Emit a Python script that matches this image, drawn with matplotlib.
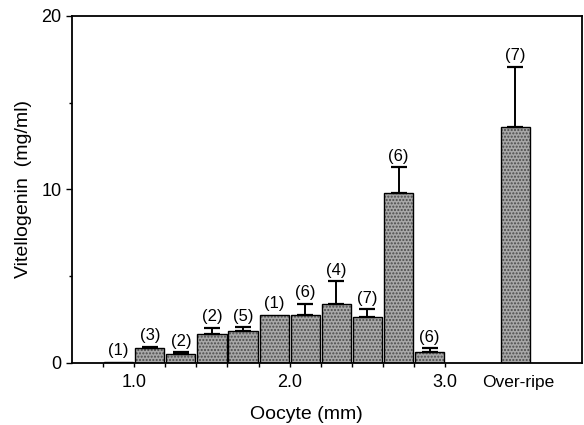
import matplotlib
matplotlib.use('Agg')
import matplotlib.pyplot as plt
from matplotlib.ticker import FixedLocator
import matplotlib.transforms as mtransforms

plt.rcParams['font.family'] = ['Liberation Sans', 'DejaVu Sans']

# oocyte size bins (mm, bin centre) and the over-ripe group
bin_centers = [0.9, 1.1, 1.3, 1.5, 1.7, 1.9, 2.1, 2.3, 2.5, 2.7, 2.9, 3.45]
vtg_mean = [0.08, 0.85, 0.52, 1.67, 1.84, 2.77, 2.77, 3.40, 2.67, 9.82, 0.63, 13.62]
vtg_err = [0.0, 0.09, 0.10, 0.37, 0.23, 0.0, 0.65, 1.31, 0.44, 1.46, 0.22, 3.46]
n_fish = [1, 3, 2, 2, 5, 1, 6, 4, 7, 6, 6, 7]
major_ticks = [1.0, 2.0, 3.0]
major_labels = ['1.0', '2.0', '3.0']
minor_ticks = [0.8, 1.2, 1.4, 1.6, 1.8, 2.2, 2.4, 2.6, 2.8]

fig = plt.figure(figsize=(5.84, 4.25), dpi=100)
ax = fig.add_axes([0.1233, 0.1459, 0.8733, 0.8165])

# stippled grey look: base fill, dotted hatch, then black outline
ax.bar(bin_centers, vtg_mean, width=0.188, color='#a8a8a8', edgecolor='#4a4a4a',
       hatch='.....', linewidth=0, zorder=2)
ax.bar(bin_centers, vtg_mean, width=0.188, color='none', edgecolor='black',
       linewidth=1.0, zorder=3)

for x, m, e, n in zip(bin_centers, vtg_mean, vtg_err, n_fish):
    if e > 0:
        ax.errorbar(x, m, yerr=[[0], [e]], fmt='none', ecolor='black',
                    elinewidth=1.4, capsize=6, capthick=1.6, zorder=4)
    ax.annotate(f'({n})', (x, m + e), xytext=(0, 2.5), textcoords='offset points',
                ha='center', va='bottom', fontsize=12)

ax.set_xlim(0.6, 3.88)
ax.set_ylim(0, 20)

ax.set_yticks([0, 10, 20])
ax.yaxis.set_minor_locator(FixedLocator([5, 15]))
ax.tick_params(axis='y', which='major', direction='out', length=4, width=1, labelsize=13)
ax.tick_params(axis='y', which='minor', direction='out', length=2, width=1)
ax.tick_params(axis='y', right=False)

ax.set_xticks(major_ticks)
ax.set_xticklabels(major_labels)
ax.xaxis.set_minor_locator(FixedLocator(minor_ticks))
ax.tick_params(axis='x', which='both', direction='out', length=3, width=1,
               labelsize=13, pad=5)

trans = mtransforms.blended_transform_factory(ax.transData, ax.transAxes)
ax.text(3.47, -0.036, 'Over-ripe', transform=trans, ha='center', va='top', fontsize=12.5)

for spine in ax.spines.values():
    spine.set_linewidth(1.3)

ax.set_ylabel('Vitellogenin  (mg/ml)', fontsize=14)
ax.yaxis.set_label_coords(-0.078, 0.5)
ax.set_xlabel('Oocyte (mm)', fontsize=14)
ax.xaxis.set_label_coords(0.46, -0.125)

fig.savefig('out.png', dpi=100)
